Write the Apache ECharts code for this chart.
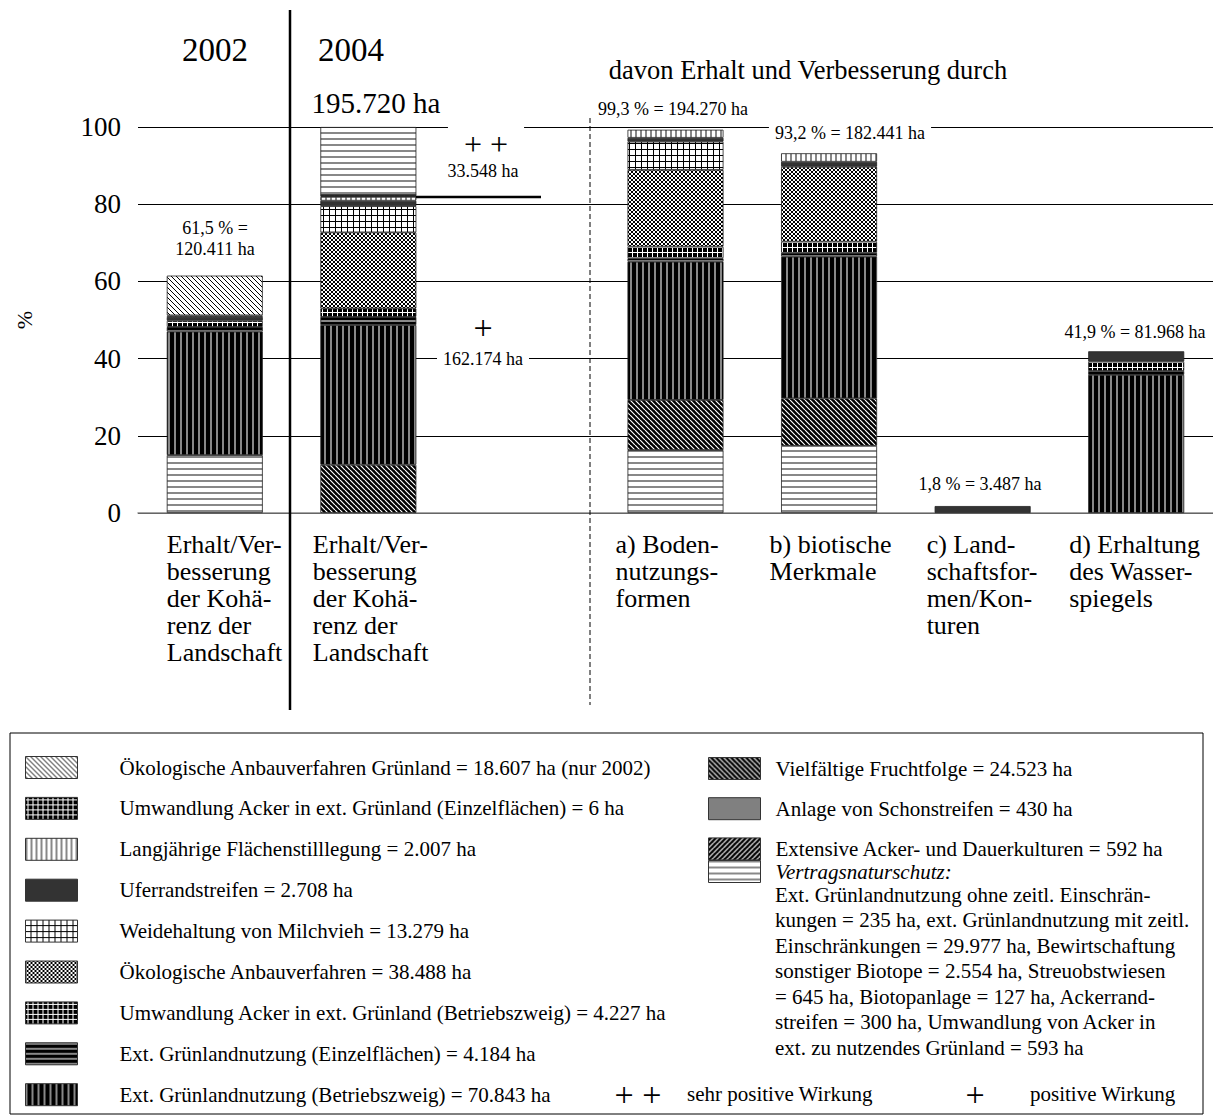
<!DOCTYPE html>
<html>
<head>
<meta charset="utf-8">
<script src="https://cdn.jsdelivr.net/npm/echarts@6/dist/echarts.min.js"></script>
<style>
html, body { margin: 0; padding: 0; background: #fff; }
#chart { width: 1213px; height: 1120px; }
</style>
</head>
<body>
<div id="chart"></div>
<script>
// Kategorien (Platz 3 bleibt leer, dort stehen die + / ++ Hinweise)
const categories = [
  'Erhalt/Ver-\nbesserung\nder Kohä-\nrenz der\nLandschaft',
  'Erhalt/Ver-\nbesserung\nder Kohä-\nrenz der\nLandschaft',
  '',
  'a) Boden-\nnutzungs-\nformen',
  'b) biotische\nMerkmale',
  'c) Land-\nschaftsfor-\nmen/Kon-\nturen',
  'd) Erhaltung\ndes Wasser-\nspiegels'
]
const yTicks = [0, 20, 40, 60, 80, 100]

// Anteile in % (Reihenfolge = Stapel von unten nach oben)
const vertragUnten  = [15.0, '-', '-', 16.3, 17.4, '-', '-']
const fruchtfolge   = ['-', 12.5, '-', 13.0, 12.3, '-', '-']
const gruenBetrieb  = [32.0, 36.2, '-', 35.8, 36.7, '-', 35.8]
const gruenEinzel   = [1.2, 2.1, '-', 0.9, 1.0, '-', 1.0]
const umwBetrieb    = [1.6, 2.2, '-', 3.0, 2.9, '-', 2.4]
const oekoAnbau     = ['-', 19.7, '-', 19.9, 19.4, '-', '-']
const weide         = ['-', 6.8, '-', 7.3, '-', '-', '-']
const uferrand      = [1.0, 1.4, '-', 1.0, 1.3, 1.8, 2.7]
const stilllegung   = [0.4, 1.0, '-', 2.1, 2.2, '-', '-']
const schonstreifen = ['-', 0.2, '-', '-', '-', '-', '-']
const extAcker      = ['-', 0.3, '-', '-', '-', '-', '-']
const umwEinzel     = ['-', 0.003, '-', '-', '-', '-', '-']
const oekoGruenland = [10.3, '-', '-', '-', '-', '-', '-']
const vertragOben   = ['-', 17.6, '-', '-', '-', '-', '-']

const SERIF = '"Liberation Serif", "DejaVu Serif", serif'

// Musterfüllungen
function tile (w, h, draw) {
  const c = document.createElement('canvas')
  c.width = w
  c.height = h
  const ctx = c.getContext('2d')
  draw(ctx, w, h)
  return { image: c, repeat: 'repeat' }
}
function diag (bg, fg, p, lw, up) {
  return tile(p, p, (ctx) => {
    ctx.fillStyle = bg
    ctx.fillRect(0, 0, p, p)
    ctx.strokeStyle = fg
    ctx.lineWidth = lw
    ctx.beginPath()
    for (let k = -p; k <= p; k += p) {
      if (up) { ctx.moveTo(k, p); ctx.lineTo(k + p, 0) } else { ctx.moveTo(k, 0); ctx.lineTo(k + p, p) }
    }
    ctx.stroke()
  })
}
const P = {
  oekoGruen: diag('#fff', '#000', 5, 1, false),
  frucht: diag('#000', '#fff', 5, 1.2, false),
  extAcker: diag('#000', '#fff', 5, 1.2, true),
  umw: tile(5, 5, (ctx) => {
    ctx.fillStyle = '#000'; ctx.fillRect(0, 0, 5, 5)
    ctx.fillStyle = '#fff'; ctx.fillRect(0, 2, 5, 1); ctx.fillRect(2, 0, 1, 5)
  }),
  stilll: tile(5, 1, (ctx) => {
    ctx.fillStyle = '#fff'; ctx.fillRect(0, 0, 5, 1)
    ctx.fillStyle = '#888'; ctx.fillRect(0, 0, 2, 1)
  }),
  weide: tile(6, 6, (ctx) => {
    ctx.fillStyle = '#fff'; ctx.fillRect(0, 0, 6, 6)
    ctx.fillStyle = '#000'; ctx.fillRect(0, 5, 6, 1); ctx.fillRect(5, 0, 1, 6)
  }),
  oekoAnbau: tile(4, 4, (ctx) => {
    ctx.fillStyle = '#fff'; ctx.fillRect(0, 0, 4, 4)
    ctx.strokeStyle = '#000'; ctx.lineWidth = 1
    ctx.beginPath()
    for (let k = -4; k <= 4; k += 4) {
      ctx.moveTo(k, 0); ctx.lineTo(k + 4, 4)
      ctx.moveTo(k, 4); ctx.lineTo(k + 4, 0)
    }
    ctx.stroke()
  }),
  gruenEinzel: tile(1, 5, (ctx) => {
    ctx.fillStyle = '#000'; ctx.fillRect(0, 0, 1, 5)
    ctx.fillStyle = '#888'; ctx.fillRect(0, 0, 1, 2)
  }),
  gruenBetrieb: tile(6, 1, (ctx) => {
    ctx.fillStyle = '#000'; ctx.fillRect(0, 0, 6, 1)
    ctx.fillStyle = '#888'; ctx.fillRect(0, 0, 2, 1)
  }),
  vertrag: tile(1, 6, (ctx) => {
    ctx.fillStyle = '#fff'; ctx.fillRect(0, 0, 1, 6)
    ctx.fillStyle = '#888'; ctx.fillRect(0, 0, 1, 2)
  }),
  ufer: '#333',
  schon: '#808080'
}

const N = {
  oekoGruen: 'Ökologische Anbauverfahren Grünland = 18.607 ha (nur 2002)',
  umwEinzel: 'Umwandlung Acker in ext. Grünland (Einzelflächen) = 6 ha',
  stilll: 'Langjährige Flächenstilllegung = 2.007 ha',
  ufer: 'Uferrandstreifen = 2.708 ha',
  weide: 'Weidehaltung von Milchvieh = 13.279 ha',
  oekoAnbau: 'Ökologische Anbauverfahren = 38.488 ha',
  umwBetrieb: 'Umwandlung Acker in ext. Grünland (Betriebszweig) = 4.227 ha',
  gruenEinzel: 'Ext. Grünlandnutzung (Einzelflächen) = 4.184 ha',
  gruenBetrieb: 'Ext. Grünlandnutzung (Betriebszweig) = 70.843 ha',
  frucht: 'Vielfältige Fruchtfolge = 24.523 ha',
  schon: 'Anlage von Schonstreifen = 430 ha',
  extAcker: 'Extensive Acker- und Dauerkulturen = 592 ha',
  vertrag: 'Vertragsnaturschutz:'
}

function bar (name, fill, data) {
  return {
    name: name,
    type: 'bar',
    stack: 'all',
    barWidth: 96,
    data: data,
    itemStyle: { color: fill, borderColor: '#222', borderWidth: 0.8 }
  }
}

const series = [
  bar(N.vertrag, P.vertrag, vertragUnten),
  bar(N.frucht, P.frucht, fruchtfolge),
  bar(N.gruenBetrieb, P.gruenBetrieb, gruenBetrieb),
  bar(N.gruenEinzel, P.gruenEinzel, gruenEinzel),
  bar(N.umwBetrieb, P.umw, umwBetrieb),
  bar(N.oekoAnbau, P.oekoAnbau, oekoAnbau),
  bar(N.weide, P.weide, weide),
  bar(N.ufer, P.ufer, uferrand),
  bar(N.stilll, P.stilll, stilllegung),
  bar(N.schon, P.schon, schonstreifen),
  bar(N.extAcker, P.extAcker, extAcker),
  bar(N.umwEinzel, P.umw, umwEinzel),
  bar(N.oekoGruen, P.oekoGruen, oekoGruenland),
  bar(N.vertrag, P.vertrag, vertragOben)
]

// Breite der Beschriftungsblöcke je Kategorie (linksbündig unter dem Balken)
const labelWidths = [96, 111, 100, 120, 119, 112, 134]
const rich = {}
labelWidths.forEach((w, i) => {
  rich['w' + i] = { width: w, align: 'left', fontSize: 26, lineHeight: 27, fontFamily: SERIF, color: '#000' }
})

const legendBase = {
  orient: 'vertical',
  icon: 'rect',
  padding: 0,
  height: 380,
  itemWidth: 52,
  itemHeight: 22,
  selectedMode: false,
  itemStyle: { borderColor: '#333', borderWidth: 1 },
  textStyle: { fontFamily: SERIF, fontSize: 21, color: '#000', lineHeight: 22 }
}

function txt (x, y, text, size, extra) {
  return {
    type: 'text',
    z: 100,
    x: x,
    y: y,
    style: Object.assign({
      text: text,
      fontFamily: SERIF,
      fontSize: size,
      fill: '#000',
      align: 'center',
      verticalAlign: 'middle'
    }, extra || {})
  }
}
const whiteBg = (pad) => ({ backgroundColor: '#fff', padding: pad })

const vertragText = [
  'Ext. Grünlandnutzung ohne zeitl. Einschrän-',
  'kungen = 235 ha, ext. Grünlandnutzung mit zeitl.',
  'Einschränkungen = 29.977 ha, Bewirtschaftung',
  'sonstiger Biotope = 2.554 ha, Streuobstwiesen',
  '= 645 ha, Biotopanlage = 127 ha, Ackerrand-',
  'streifen = 300 ha, Umwandlung von Acker in',
  'ext. zu nutzendes Grünland = 593 ha'
].join('\n')

const chart = echarts.init(document.getElementById('chart'), null, { renderer: 'svg' })
chart.setOption({
  animation: false,
  backgroundColor: '#fff',
  grid: { left: 138, right: 0, top: 127, bottom: 607, containLabel: false, outerBoundsMode: 'none' },
  xAxis: {
    type: 'category',
    data: categories,
    axisTick: { show: false },
    axisLine: { lineStyle: { color: '#888', width: 1.5 } },
    axisLabel: {
      interval: 0,
      margin: 18,
      formatter: (v, i) => v.split('\n').map(l => '{w' + i + '|' + l + '}').join('\n'),
      rich: rich
    }
  },
  yAxis: {
    type: 'value',
    min: yTicks[0],
    max: yTicks[yTicks.length - 1],
    interval: 20,
    name: '%',
    nameLocation: 'middle',
    nameRotate: 90,
    nameGap: 103,
    nameTextStyle: { fontFamily: SERIF, fontSize: 22, color: '#000' },
    axisLine: { show: false },
    axisTick: { show: false },
    axisLabel: { margin: 17, fontFamily: SERIF, fontSize: 27, color: '#000' },
    splitLine: { lineStyle: { color: '#000', width: 1 } }
  },
  legend: [
    Object.assign({}, legendBase, {
      left: 25,
      top: 756,
      itemGap: 17.9,
      data: [N.oekoGruen, N.umwEinzel, N.stilll, N.ufer, N.weide, N.oekoAnbau, N.umwBetrieb, N.gruenEinzel, N.gruenBetrieb],
      textStyle: Object.assign({}, legendBase.textStyle, { padding: [0, 0, 0, 37] })
    }),
    Object.assign({}, legendBase, {
      left: 708,
      top: 757,
      itemGap: 17.2,
      height: 200,
      data: [N.frucht, N.schon, N.extAcker],
      textStyle: Object.assign({}, legendBase.textStyle, { lineHeight: 18, padding: [0, 0, 0, 10] })
    }),
    Object.assign({}, legendBase, {
      left: 708,
      top: 860,
      height: 60,
      data: [N.vertrag],
      textStyle: Object.assign({}, legendBase.textStyle, { fontStyle: 'italic', lineHeight: 18, padding: [0, 0, 0, 10] })
    })
  ],
  graphic: [
    // Rahmen der Legende
    { type: 'rect', z: 1, shape: { x: 10, y: 733, width: 1193, height: 381 }, style: { fill: 'none', stroke: '#000', lineWidth: 1 } },
    // Trennlinie 2002 | 2004
    { type: 'line', z: 100, shape: { x1: 290, y1: 10, x2: 290, y2: 710 }, style: { stroke: '#000', lineWidth: 2.5 } },
    // gestrichelte Trennlinie
    { type: 'line', z: 100, shape: { x1: 590, y1: 118, x2: 590, y2: 705 }, style: { stroke: '#000', lineWidth: 1, lineDash: [5, 3] } },
    // Grenze ++ / +
    { type: 'line', z: 100, shape: { x1: 416, y1: 197, x2: 541, y2: 197 }, style: { stroke: '#000', lineWidth: 2.5 } },
    txt(215, 50, '2002', 33),
    txt(351, 50, '2004', 33),
    txt(808, 70, 'davon Erhalt und Verbesserung durch', 26.5),
    txt(376, 103, '195.720 ha', 29),
    txt(673, 109, '99,3 % = 194.270 ha', 18),
    txt(850, 133, '93,2 % = 182.441 ha', 18, whiteBg([0, 6])),
    txt(215, 228, '61,5 % =', 18),
    txt(215, 249, '120.411 ha', 18),
    txt(486, 144, '+ +', 32, whiteBg([7, 16, 0, 16])),
    txt(483, 171, '33.548 ha', 18),
    txt(483, 327, '+', 34),
    txt(483, 359, '162.174 ha', 18, whiteBg([0, 6])),
    txt(1135, 332, '41,9 % = 81.968 ha', 18),
    txt(980, 484, '1,8 % = 3.487 ha', 18),
    // Text zum Vertragsnaturschutz
    txt(775, 882, vertragText, 21, { align: 'left', verticalAlign: 'top', lineHeight: 25.5 }),
    // Wirkungs-Legende
    txt(638, 1094, '+ +', 34),
    txt(687, 1094, 'sehr positive Wirkung', 21, { align: 'left' }),
    txt(975, 1094, '+', 34),
    txt(1030, 1094, 'positive Wirkung', 21, { align: 'left' })
  ],
  series: series
})
</script>
</body>
</html>
